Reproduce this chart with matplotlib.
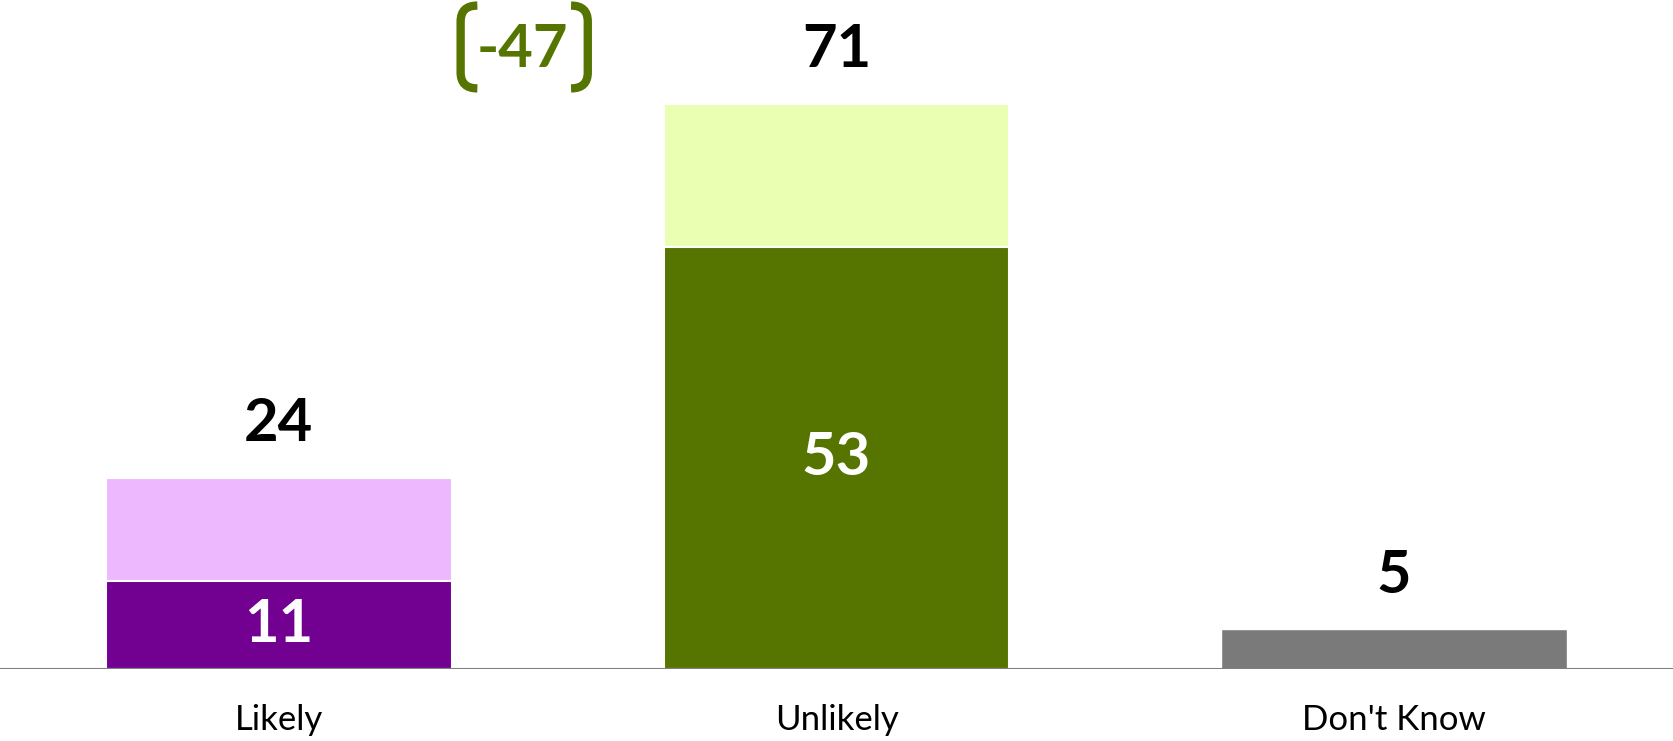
import matplotlib.pyplot as plt
from matplotlib.path import Path
from matplotlib.patches import PathPatch
import numpy as np

# data
categories = ["Likely", "Unlikely", "Don't Know"]
totals = [24, 71, 5]
strong = [11, 53, None]
dark_colors = ["#720091", "#557500", "#7a7a7a"]
light_colors = ["#eeb8ff", "#ebffb3", "#7a7a7a"]

plt.rcParams['font.family'] = ['Lato', 'DejaVu Sans']

fig = plt.figure(figsize=(16.73, 7.41), dpi=100)
ax = fig.add_axes([0, 72 / 741, 1, 669 / 741])

x = np.arange(len(categories))
width = 0.62
W = 'bold'

for i, cat in enumerate(categories):
    if strong[i] is None:
        ax.bar(x[i], totals[i], width, color=dark_colors[i], edgecolor='white', linewidth=1)
    else:
        ax.bar(x[i], totals[i], width, color=light_colors[i], edgecolor='white', linewidth=1.5)
        ax.bar(x[i], strong[i], width, color=dark_colors[i], edgecolor='white', linewidth=1.5)
        ax.text(x[i], strong[i] / 2, str(strong[i]), ha='center', va='center',
                fontsize=43, fontweight=W, color='white')
    ax.text(x[i], totals[i] + 6.7, str(totals[i]), ha='center', va='center',
            fontsize=43, fontweight=W, color='black')

# net difference with rounded bracket
diff = totals[0] - totals[1]
green = "#557500"
ax.text(0.437, 77.7, f"{diff}", ha='center', va='center', fontsize=43,
        fontweight=W, color=green)
bl, br = 0.326, 0.554
bt, bb = 83.3, 72.9
hook = 0.03
r = 2.0


def bracket(xe, sgn):
    verts = [(xe + sgn * hook, bt), (xe, bt), (xe, bt - r),
             (xe, bb + r), (xe, bb), (xe + sgn * hook, bb)]
    codes = [Path.MOVETO, Path.CURVE3, Path.CURVE3,
             Path.LINETO, Path.CURVE3, Path.CURVE3]
    return PathPatch(Path(verts, codes), fill=False, edgecolor=green, lw=6,
                     capstyle='butt', clip_on=False)


ax.add_patch(bracket(bl, 1))
ax.add_patch(bracket(br, -1))

ax.set_xlim(-0.5, 2.5)
ax.set_ylim(0, 84)
ax.axhline(0, color='#7f7f7f', lw=1.5)

for s in ax.spines.values():
    s.set_visible(False)
ax.set_yticks([])
ax.set_xticks(x)
ax.set_xticklabels(categories, fontsize=25, color='black')
ax.tick_params(axis='x', length=0, pad=25)

fig.savefig('out.png', dpi=100)
